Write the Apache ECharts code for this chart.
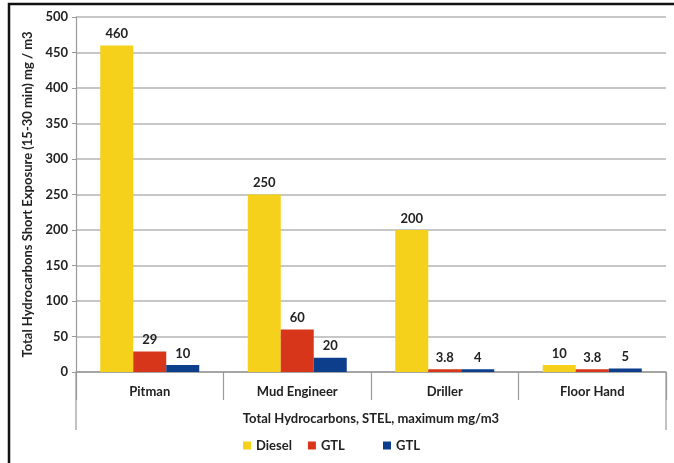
<!DOCTYPE html>
<html>
<head>
<meta charset="utf-8">
<script src="https://cdn.jsdelivr.net/npm/echarts@6/dist/echarts.min.js"></script>
<style>
  html, body { margin: 0; padding: 0; background: #fff; }
  #chart { width: 674px; height: 463px; }
</style>
</head>
<body>
<div id="chart"></div>
<script>
// Exposure categories and measured values (mg/m3)
const categories = ['Pitman', 'Mud Engineer', 'Driller', 'Floor Hand'];
const dieselValues = [460, 250, 200, 10];
const gtlValuesA = [29, 60, 3.8, 3.8];
const gtlValuesB = [10, 20, 4, 5];
const yTicks = { min: 0, max: 500, interval: 50 };

const FONT = 'Lato, "Noto Sans", sans-serif';
const FS = 13;
const AXIS_GRAY = '#9a9a9a';
const GRID = { left: 76, right: 8, top: 17, bottom: 91 };
const W = 674, H = 463;
const axisY = H - GRID.bottom;

const textBase = { fontFamily: FONT, fontWeight: 'bold', fontSize: FS, color: '#222' };

const chart = echarts.init(document.getElementById('chart'), null, { renderer: 'canvas' });

function barSeries(name, data, color) {
  return {
    name: name,
    type: 'bar',
    data: data,
    barWidth: 33,
    barGap: '0%',
    itemStyle: { color: color },
    label: Object.assign({ show: true, position: 'top', distance: 5 }, textBase)
  };
}

function legendAt(left, names) {
  return {
    top: 439,
    left: left,
    padding: 0,
    itemWidth: 8,
    itemHeight: 8,
    itemGap: 16,
    icon: 'rect',
    formatter: function (name) { return name.replace(/\s*\(.*\)$/, ''); },
    data: names,
    textStyle: textBase
  };
}

chart.setOption({
  animation: false,
  backgroundColor: '#fff',
  grid: GRID,
  legend: [
    legendAt(243, ['Diesel', 'GTL (a)']),
    legendAt(383, ['GTL (b)'])
  ],
  xAxis: {
    type: 'category',
    data: categories,
    name: 'Total Hydrocarbons, STEL, maximum mg/m3',
    nameLocation: 'middle',
    nameGap: 40,
    nameTextStyle: textBase,
    axisLine: { show: true, lineStyle: { color: AXIS_GRAY, width: 1.5 } },
    axisTick: { show: true, length: 28, interval: 0, lineStyle: { color: AXIS_GRAY, width: 1.2 } },
    axisLabel: Object.assign({ margin: 13 }, textBase)
  },
  yAxis: {
    type: 'value',
    min: yTicks.min,
    max: yTicks.max,
    interval: yTicks.interval,
    name: 'Total Hydrocarbons Short Exposure (15-30 min) mg / m3',
    nameLocation: 'middle',
    nameGap: 40,
    nameTextStyle: textBase,
    axisLine: { show: true, lineStyle: { color: AXIS_GRAY, width: 1.2 } },
    axisTick: { show: true, length: 4, lineStyle: { color: AXIS_GRAY } },
    axisLabel: Object.assign({ margin: 8 }, textBase),
    splitLine: { show: true, lineStyle: { color: '#b4b4b4', width: 1.5 } }
  },
  series: [
    barSeries('Diesel', dieselValues, '#f6d11b'),
    barSeries('GTL (a)', gtlValuesA, '#d7361b'),
    barSeries('GTL (b)', gtlValuesB, '#0d3e8c')
  ],
  graphic: [
    // frame on the top and left edges
    {
      type: 'rect',
      shape: { x: 9, y: 4, width: W + 20, height: H + 20 },
      style: { fill: 'none', stroke: '#111', lineWidth: 2.5 },
      silent: true
    },
    // outer walls of the category table, down past the axis title row
    {
      type: 'line',
      shape: { x1: GRID.left, y1: axisY, x2: GRID.left, y2: axisY + 58 },
      style: { stroke: AXIS_GRAY, lineWidth: 1.2 },
      silent: true
    },
    {
      type: 'line',
      shape: { x1: W - GRID.right, y1: axisY, x2: W - GRID.right, y2: axisY + 58 },
      style: { stroke: AXIS_GRAY, lineWidth: 1.2 },
      silent: true
    }
  ]
});
</script>
</body>
</html>
